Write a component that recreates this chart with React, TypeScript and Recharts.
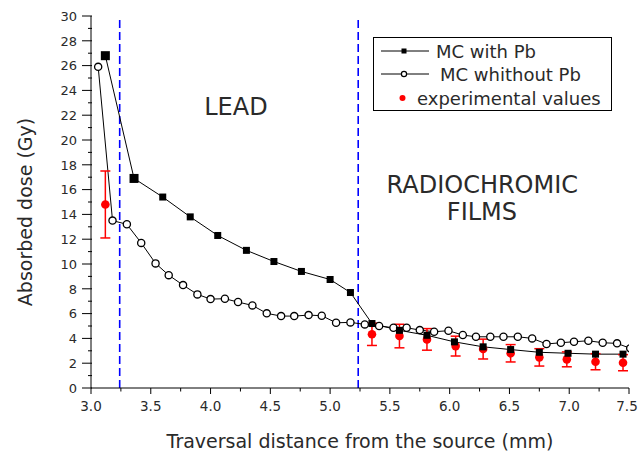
import {
  ComposedChart,
  Line,
  Scatter,
  ErrorBar,
  XAxis,
  YAxis,
  ReferenceLine,
  ReferenceDot,
  Legend,
} from "recharts";

// MC simulation with the lead layer (filled squares)
const withPbX = [3.12, 3.36, 3.6, 3.83, 4.06, 4.3, 4.53, 4.76, 5.0, 5.17, 5.35, 5.58, 5.81, 6.04, 6.28, 6.51, 6.75, 6.99, 7.22, 7.45];
const withPbDose = [26.8, 16.9, 15.4, 13.8, 12.3, 11.1, 10.2, 9.4, 8.75, 7.7, 5.2, 4.65, 4.25, 3.72, 3.32, 3.1, 2.88, 2.8, 2.73, 2.73];

// MC simulation without the lead layer (open markers)
const withoutPbX = [
  3.06, 3.18, 3.3, 3.42, 3.54, 3.65, 3.77, 3.89, 4.0, 4.12, 4.23, 4.35, 4.47, 4.59, 4.7, 4.82, 4.93, 5.05, 5.17, 5.29,
  5.41, 5.53, 5.64, 5.75, 5.87, 5.99, 6.11, 6.22, 6.34, 6.45, 6.57, 6.69, 6.81, 6.93, 7.04, 7.16, 7.28, 7.4, 7.51,
];
const withoutPbDose = [
  25.9, 13.5, 13.2, 11.7, 10.05, 9.1, 8.3, 7.55, 7.17, 7.2, 6.93, 6.66, 6.02, 5.8, 5.8, 5.88, 5.83, 5.26, 5.29, 5.13,
  5.0, 4.86, 4.86, 4.67, 4.54, 4.62, 4.27, 4.13, 4.13, 4.13, 4.13, 4.0, 3.55, 3.65, 3.73, 3.81, 3.65, 3.6, 3.2,
];

// measured values (radiochromic films)
const expX = [3.12, 5.35, 5.58, 5.81, 6.05, 6.28, 6.51, 6.75, 6.98, 7.22, 7.45];
const expDose = [14.8, 4.33, 4.19, 3.92, 3.38, 3.14, 2.8, 2.47, 2.31, 2.12, 2.04];
const expErr = [2.7, 0.9, 0.95, 0.87, 0.8, 0.8, 0.7, 0.7, 0.6, 0.65, 0.65];

const seriesNames = ["MC with Pb", "MC whithout Pb", "experimental values"];

// layer boundaries (mm)
const boundaries = [3.24, 5.235];

const xTicks = [3.0, 3.25, 3.5, 3.75, 4.0, 4.25, 4.5, 4.75, 5.0, 5.25, 5.5, 5.75, 6.0, 6.25, 6.5, 6.75, 7.0, 7.25, 7.5];
const yTicks = [0, 1, 2, 3, 4, 5, 6, 7, 8, 9, 10, 11, 12, 13, 14, 15, 16, 17, 18, 19, 20, 21, 22, 23, 24, 25, 26, 27, 28, 29, 30];

const withPbData = withPbX.map((x, i) => ({ x, y: withPbDose[i] }));
const withoutPbData = withoutPbX.map((x, i) => ({ x, y: withoutPbDose[i] }));
const expData = expX.map((x, i) => ({ x, y: expDose[i], err: expErr[i] }));

const TEXT = "#2a2a2a";
const isMajorX = (v: number) => Math.abs(v * 2 - Math.round(v * 2)) < 1e-6;
const isMajorY = (v: number) => v % 2 === 0;

const BottomTick = ({ x, y, payload }: any) => {
  const major = isMajorX(payload.value);
  const last = payload.value === xTicks[xTicks.length - 1];
  return (
    <g>
      <line x1={x} x2={x} y1={y} y2={y + (major ? 6 : 3.5)} stroke="#000" />
      {major && (
        <text x={last ? x - 2 : x} y={y + 23} textAnchor="middle" fontSize={13.5} fill={TEXT}>
          {payload.value.toFixed(1)}
        </text>
      )}
    </g>
  );
};

const TopTick = ({ x, y, payload }: any) => (
  <line x1={x} x2={x} y1={y} y2={y + (isMajorX(payload.value) ? 7 : 4)} stroke="#000" />
);

const LeftTick = ({ x, y, payload }: any) => {
  const major = isMajorY(payload.value);
  return (
    <g>
      <line x1={x - (major ? 9 : 3)} x2={x + 1} y1={y} y2={y} stroke="#000" />
      {major && (
        <text x={x - 14} y={y + 4.7} textAnchor="end" fontSize={13} fill={TEXT}>
          {payload.value}
        </text>
      )}
    </g>
  );
};

const RightTick = ({ x, y, payload }: any) => (
  <line x1={x} x2={x - (isMajorY(payload.value) ? 6 : 3)} y1={y} y2={y} stroke="#000" />
);

const SquareDot = ({ cx, cy, index }: any) => {
  const s = index < 2 ? 9 : 7;
  return <rect key={index} x={cx - s / 2} y={cy - s / 2} width={s} height={s} fill="#000" />;
};

const OpenDot = ({ cx, cy, index }: any) => (
  <circle key={index} cx={cx} cy={cy} r={3.6} fill="#fff" stroke="#000" strokeWidth={1.3} />
);

const RedDot = ({ cx, cy }: any) => <circle cx={cx} cy={cy} r={4.3} fill="#ff0000" />;

const LegendBox = () => (
  <div style={{ width: 239, height: 74, border: "1px solid #000", background: "#fff", boxSizing: "border-box" }}>
    <svg width={237} height={72} style={{ display: "block" }}>
      <line x1={7} x2={55} y1={13} y2={13} stroke="#000" />
      <rect x={27.5} y={10.5} width={5} height={5} fill="#000" />
      <text x={62} y={19.5} fontSize={18} fill={TEXT}>{seriesNames[0]}</text>
      <line x1={7} x2={55} y1={36} y2={36} stroke="#000" />
      <circle cx={30} cy={36} r={2.6} fill="#fff" stroke="#000" strokeWidth={1.2} />
      <text x={66} y={42.5} fontSize={18} fill={TEXT}>{seriesNames[1]}</text>
      <circle cx={28.5} cy={60} r={3} fill="#ff0000" />
      <text x={43} y={66.5} fontSize={18} fill={TEXT}>{seriesNames[2]}</text>
    </svg>
  </div>
);

export default function App() {
  return (
    <div
      style={{
        position: "absolute",
        left: 0,
        top: 0,
        width: 638,
        height: 454,
        background: "#fff",
        fontFamily: '"DejaVu Sans", sans-serif',
      }}
    >
      <ComposedChart width={638} height={454} margin={{ top: 16, right: 9, bottom: 0, left: 0 }}>
        <XAxis
          dataKey="x"
          type="number"
          domain={[3, 7.5]}
          allowDataOverflow
          ticks={xTicks}
          interval={0}
          height={66}
          tickSize={0}
          tickMargin={0}
          tickLine={false}
          axisLine={{ stroke: "#000" }}
          tick={(p: any) => <BottomTick {...p} />}
          label={{
            content: ({ viewBox }: any) => (
              <text
                x={viewBox.x + viewBox.width / 2}
                y={viewBox.y + 60}
                textAnchor="middle"
                fontSize={19}
                fill={TEXT}
              >
                Traversal distance from the source (mm)
              </text>
            ),
          }}
        />
        <XAxis
          xAxisId="top"
          orientation="top"
          dataKey="x"
          type="number"
          domain={[3, 7.5]}
          allowDataOverflow
          ticks={xTicks}
          interval={0}
          height={0}
          tickSize={0}
          tickMargin={0}
          tickLine={false}
          axisLine={{ stroke: "#000" }}
          tick={(p: any) => <TopTick {...p} />}
        />
        <YAxis
          type="number"
          domain={[0, 30]}
          ticks={yTicks}
          interval={0}
          width={91}
          tickSize={0}
          tickMargin={0}
          tickLine={false}
          axisLine={{ stroke: "#000" }}
          tick={(p: any) => <LeftTick {...p} />}
          label={{
            content: ({ viewBox }: any) => {
              const lx = viewBox.x + 32;
              const ly = viewBox.y + viewBox.height / 2 + 10;
              return (
                <text
                  x={lx}
                  y={ly}
                  transform={`rotate(-90 ${lx} ${ly})`}
                  textAnchor="middle"
                  fontSize={19}
                  fill={TEXT}
                >
                  Absorbed dose (Gy)
                </text>
              );
            },
          }}
        />
        <YAxis
          yAxisId="right"
          orientation="right"
          type="number"
          domain={[0, 30]}
          ticks={yTicks}
          interval={0}
          width={0}
          tickSize={0}
          tickMargin={0}
          tickLine={false}
          axisLine={{ stroke: "#000" }}
          tick={(p: any) => <RightTick {...p} />}
        />

        {boundaries.map((b) => (
          <ReferenceLine key={b} x={b} stroke="#0000ff" strokeWidth={1.6} strokeDasharray="8 4" />
        ))}

        <ReferenceDot x={4.212} y={22.72} r={0} stroke="none" label={{ value: "LEAD", position: "center", fontSize: 24, fill: TEXT }} />
        <ReferenceDot x={6.273} y={16.44} r={0} stroke="none" label={{ value: "RADIOCHROMIC", position: "center", fontSize: 24, fill: TEXT }} />
        <ReferenceDot x={6.27} y={14.26} r={0} stroke="none" label={{ value: "FILMS", position: "center", fontSize: 24, fill: TEXT }} />

        <Line
          data={withoutPbData}
          dataKey="y"
          name={seriesNames[1]}
          type="linear"
          stroke="#000"
          strokeWidth={1}
          dot={(p: any) => <OpenDot {...p} />}
          activeDot={false}
          isAnimationActive={false}
        />
        <Line
          data={withPbData}
          dataKey="y"
          name={seriesNames[0]}
          type="linear"
          stroke="#000"
          strokeWidth={1}
          dot={(p: any) => <SquareDot {...p} />}
          activeDot={false}
          isAnimationActive={false}
        />
        <Scatter
          data={expData}
          dataKey="y"
          name={seriesNames[2]}
          fill="#ff0000"
          shape={(p: any) => <RedDot {...p} />}
          isAnimationActive={false}
        >
          <ErrorBar dataKey="err" direction="y" width={5} stroke="#ff0000" strokeWidth={1.5} />
        </Scatter>

        <Legend
          layout="horizontal"
          verticalAlign="middle"
          align="center"
          wrapperStyle={{ position: "absolute", left: 373, top: 37, width: 239, height: 74, right: "auto", bottom: "auto" }}
          content={() => <LegendBox />}
        />
      </ComposedChart>
    </div>
  );
}
